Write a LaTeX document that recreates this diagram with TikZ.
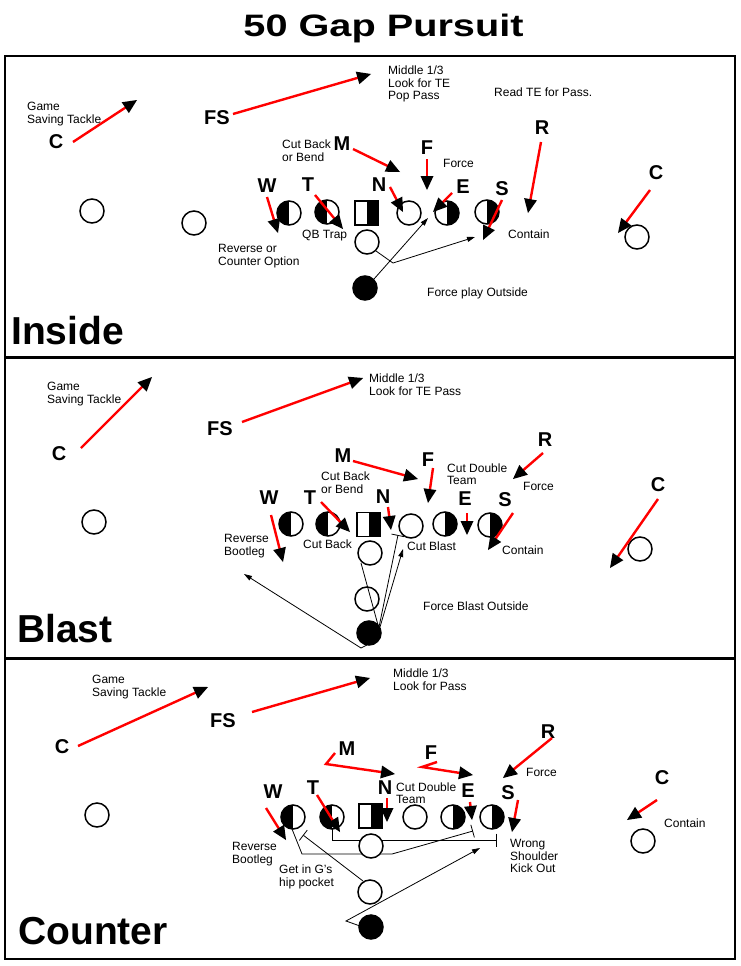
\documentclass[tikz,border=0pt]{standalone}
\usepackage{fontspec}
\setmainfont{Liberation Sans}
\usetikzlibrary{arrows.meta,calc}
\newcommand\mys{\strut}
\newcommand\rtip[2]{\fill[black] #2 -- ($#2!14pt!#1!6.5pt!90:#2$) -- ($#2!14pt!#1!6.5pt!-90:#2$) -- cycle;}
\newcommand\rarr[2]{\draw[redln, shorten >=10pt] #1 -- #2; \rtip{#1}{#2}}
\begin{document}
\begin{tikzpicture}[x=1pt,y=-1pt,
  frame/.style={line width=2.5pt},
  small/.style={font=\fontsize{12}{12}\selectfont, anchor=north west, inner sep=0pt, align=left},
  letter/.style={font=\fontsize{20}{22}\selectfont\bfseries, inner sep=0pt},
  panel/.style={font=\fontsize{39}{40}\selectfont\bfseries, inner sep=0pt, anchor=west},
  redln/.style={draw=red, line width=2.4pt},
  thinarr/.style={line width=0.8pt, -{Triangle[length=8pt,width=5pt]}},
  blk/.style={line width=0.8pt, -{Bar[width=13pt,line width=0.8pt]}},
  thin/.style={line width=0.8pt},
  pl/.style={circle, draw, line width=1.5pt, minimum size=24pt, inner sep=0pt, fill=white},
  plL/.style={pl, path picture={\fill[black] (path picture bounding box.north west) rectangle (path picture bounding box.south);}},
  plR/.style={pl, path picture={\fill[black] (path picture bounding box.north) rectangle (path picture bounding box.south east);}},
  plB/.style={pl, fill=black},
  ctr/.style={rectangle, draw, line width=1.5pt, minimum width=23pt, minimum height=24pt, inner sep=0pt, fill=white,
     path picture={\fill[black] (path picture bounding box.north) rectangle (path picture bounding box.south east);}},
]
\useasboundingbox (0,0) rectangle (741,966);
\fill[white] (0,0) rectangle (741,966);
% title and frame
\node[font=\fontsize{31}{34}\selectfont\bfseries, inner sep=0pt, anchor=base] (title) at (383.5,37) {\scalebox{1.28}[1]{50 Gap Pursuit}};
\draw[frame] (5,56) rectangle (735,959);
\draw[frame] (5,357.5) -- (735,357.5);
\draw[frame] (5,658.5) -- (735,658.5);

% ================= Panel 1: Inside =================
\node[panel] (p1) at (11,331) {Inside};
\node[small] (a1) at (27,101.5) {\mys Game\\Saving Tackle};
\node[small] (a2) at (388,65.5) {\mys Middle 1/3\\Look for TE\\Pop Pass};
\node[small] (a3) at (494,87.5) {\mys Read TE for Pass.};
\node[small] (a4) at (282,139.5) {\mys Cut Back\\or Bend};
\node[small] (a5) at (443,158.5) {\mys Force};
\node[small] (a6) at (508,229.5) {\mys Contain};
\node[small] (a7) at (302,229.5) {\mys QB Trap};
\node[small] (a8) at (218,243.5) {\mys Reverse or\\Counter Option};
\node[small] (a9) at (427,287.5) {\mys Force play Outside};
\node[letter] (c1) at (56,142) {C};
\node[letter] (fs1) at (217,118) {FS};
\node[letter] (m1) at (342,144) {M};
\node[letter] (f1) at (427,148) {F};
\node[letter] (n1) at (379,185) {N};
\node[letter] (e1) at (463,187) {E};
\node[letter] (s1) at (502,189) {S};
\node[letter] (r1) at (542,128) {R};
\node[letter] (cr1) at (656,173) {C};
\node[letter] (w1) at (267,186) {W};
\node[letter] (t1) at (308,185) {T};
\node[pl] (o11) at (92,211) {};
\node[pl] (o12) at (194,223) {};
\node[pl] (o13) at (637,237) {};
\node[plL] (wp1) at (289,213) {};
\node[plL] (tp1) at (327,212) {};
\node[ctr] (sq1) at (366.5,213) {};
\node[pl] (g1) at (409,213) {};
\node[plR] (ep1) at (447,213) {};
\node[plR] (sp1) at (487,212) {};
\node[pl] (qb1) at (367,242) {};
\node[plB] (rb1) at (365,288) {};
\coordinate (j1) at (393,263);
\draw[thin] (qb1.south east) -- (j1);
\draw[thinarr] (rb1.north east) -- (428,218);
\draw[thinarr] (j1) -- (475,237);
\rarr{(73,142)}{(137,100)}
\rarr{(233,114)}{(371,74)}
\rarr{(353,149)}{(400,172)}
\rarr{(427,159)}{(427,190)}
\rarr{(390,187)}{(403,212)}
\rarr{(452,193)}{(433,212)}
\rarr{(502,200)}{(483,240)}
\rarr{(541,142)}{(528,213)}
\rarr{(650,190)}{(618,233)}
\rarr{(267,197)}{(278,233)}
\rarr{(315,195)}{(343,229)}

% ================= Panel 2: Blast =================
\node[panel] (p2) at (17,629) {Blast};
\node[small] (b1) at (47,381.5) {\mys Game\\Saving Tackle};
\node[small] (b2) at (369,373.5) {\mys Middle 1/3\\Look for TE Pass};
\node[small] (b3) at (321,471.5) {\mys Cut Back\\or Bend};
\node[small] (b4) at (447,463.5) {\mys Cut Double\\Team};
\node[small] (b5) at (523,481.5) {\mys Force};
\node[small] (b6) at (502,545.5) {\mys Contain};
\node[small] (b7) at (224,533.5) {\mys Reverse\\Bootleg};
\node[small] (b8) at (303,539.5) {\mys Cut Back};
\node[small] (b9) at (407,541.5) {\mys Cut Blast};
\node[small] (b10) at (423,601.5) {\mys Force Blast Outside};
\node[letter] (c2) at (59,454) {C};
\node[letter] (fs2) at (220,429) {FS};
\node[letter] (m2) at (343,456) {M};
\node[letter] (f2) at (428,460) {F};
\node[letter] (r2) at (545,440) {R};
\node[letter] (w2) at (269,498) {W};
\node[letter] (t2) at (310,498) {T};
\node[letter] (n2) at (383,497) {N};
\node[letter] (e2) at (465,499) {E};
\node[letter] (s2) at (505,500) {S};
\node[letter] (cr2) at (658,485) {C};
\node[pl] (o21) at (94,522) {};
\node[pl] (o22) at (640,549) {};
\node[plL] (wp2) at (291,524) {};
\node[plL] (tp2) at (328,524) {};
\node[ctr] (sq2) at (368.5,524.5) {};
\node[pl] (g2) at (411,526) {};
\node[plR] (ep2) at (445,524) {};
\node[plR] (sp2) at (490,525) {};
\node[pl] (qb2) at (370,553) {};
\node[pl] (fb2) at (367,599) {};
\node[plB] (rb2) at (369,633) {};
\coordinate (k2) at (361,648);
\draw[thin] (361,563) -- (378,625);
\draw[blk] (379,627) -- (398,535);
\draw[thinarr] (380,627) -- (403,549);
\draw[thinarr] (367,645) -- (k2) -- (244,574);
\rarr{(81,448)}{(152,377)}
\rarr{(242,422)}{(363,378)}
\rarr{(353,461)}{(418,479)}
\rarr{(433,468)}{(428,503)}
\rarr{(543,453)}{(513,479)}
\rarr{(271,515)}{(283,562)}
\rarr{(321,502)}{(350,532)}
\rarr{(388,507)}{(391,530)}
\rarr{(467,513)}{(467,535)}
\rarr{(513,513)}{(488,550)}
\rarr{(658,499)}{(610,568)}

% ================= Panel 3: Counter =================
\node[panel] (p3) at (18,931) {Counter};
\node[small] (d1) at (92,674.5) {\mys Game\\Saving Tackle};
\node[small] (d2) at (393,668.5) {\mys Middle 1/3\\Look for Pass};
\node[small] (d3) at (396,782.5) {\mys Cut Double\\Team};
\node[small] (d4) at (526,767.5) {\mys Force};
\node[small] (d5) at (232,841.5) {\mys Reverse\\Bootleg};
\node[small] (d6) at (279,864.5) {\mys Get in G's\\hip pocket};
\node[small] (d7) at (510,838.5) {\mys Wrong\\Shoulder\\Kick Out};
\node[small] (d8) at (664,818.5) {\mys Contain};
\node[letter] (c3) at (62,747) {C};
\node[letter] (fs3) at (223,721) {FS};
\node[letter] (m3) at (347,749) {M};
\node[letter] (f3) at (431,753) {F};
\node[letter] (n3) at (385,788) {N};
\node[letter] (e3) at (468,791) {E};
\node[letter] (s3) at (508,793) {S};
\node[letter] (r3) at (548,732) {R};
\node[letter] (w3) at (273,792) {W};
\node[letter] (t3) at (313,788) {T};
\node[letter] (cr3) at (662,778) {C};
\coordinate (k3) at (346,921);
\draw[blk] (332,829) -- (332,840) -- (497,840);
\draw[blk] (292,829) -- (302,854) -- (392,854) -- (473,831);
\draw[blk] (363,881) -- (303,835);
\draw[thinarr] (360,926) -- (k3) -- (480,848);
\node[pl] (o31) at (97,815) {};
\node[pl] (o32) at (643,841) {};
\node[plL] (wp3) at (293,817) {};
\node[plL] (tp3) at (332,817) {};
\node[ctr] (sq3) at (370.5,816) {};
\node[pl] (g3) at (415,817) {};
\node[plR] (ep3) at (453,817) {};
\node[plR] (sp3) at (492,817) {};
\node[pl] (qb3) at (371,846) {};
\node[pl] (fb3) at (370,892) {};
\node[plB] (rb3) at (371,927) {};
\rarr{(78,746)}{(208,687)}
\rarr{(252,712)}{(370,678)}
\draw[redln, shorten >=10pt] (335,753) -- (326,764) -- (395,774); \rtip{(326,764)}{(395,774)}
\draw[redln, shorten >=10pt] (437,762) -- (422,767) -- (473,775); \rtip{(422,767)}{(473,775)}
\rarr{(387,798)}{(387,822)}
\rarr{(470,802)}{(472,820)}
\rarr{(518,800)}{(512,832)}
\rarr{(552,738)}{(503,778)}
\rarr{(266,808)}{(286,840)}
\rarr{(317,795)}{(340,832)}
\rarr{(657,800)}{(627,820)}
\end{tikzpicture}
\end{document}
